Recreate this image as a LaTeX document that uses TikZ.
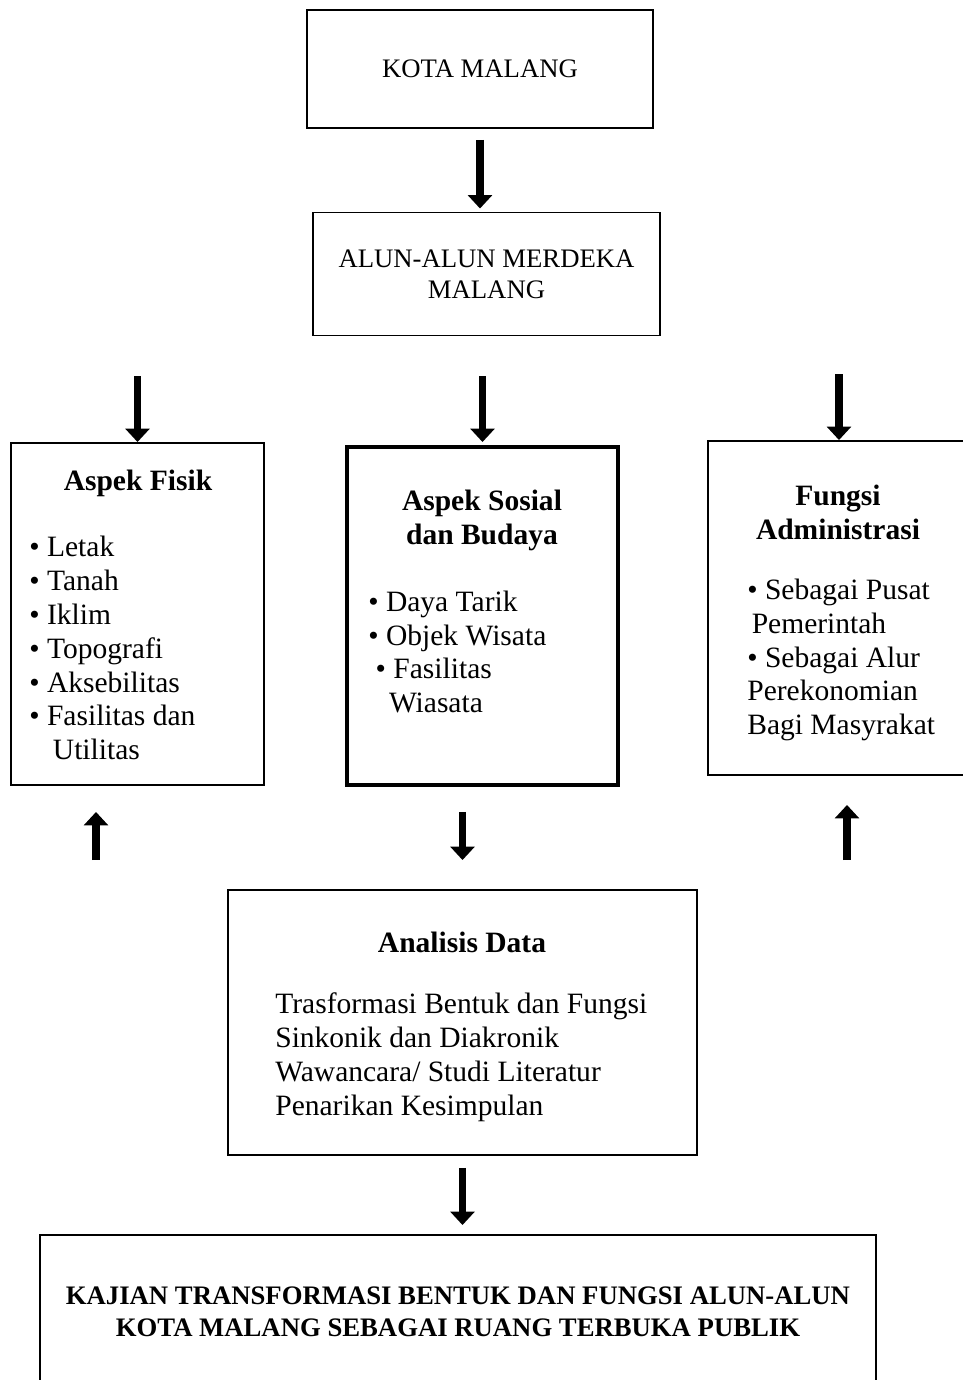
\documentclass[tikz,border=0pt]{standalone}
\usepackage{fontspec}
\setmainfont{Liberation Serif}
\usetikzlibrary{arrows.meta}
\newcommand{\boxfont}{\fontsize{16.8}{19.3}\selectfont}
\newcommand{\headfont}{\fontsize{15.2}{17.6}\selectfont}
\newcommand{\resultfont}{\fontsize{15.2}{18}\selectfont\bfseries}
\begin{document}
\begin{tikzpicture}
    [%%%%%%%%%%%%%%%%%%%%%%%%%%%%%%
        x=0.02cm,y=-0.02cm,
        box/.style={rectangle,draw=black,line width=1.1pt,inner sep=0pt,outer sep=0pt},
        thickbox/.style={box,line width=2.6pt},
        txt/.style={inner sep=0pt,align=left,anchor=west,font=\boxfont},
        ttl/.style={inner sep=0pt,align=center,font=\boxfont\bfseries},
        arr/.style={line width=4pt,-{Triangle[width=0.48cm,length=0.27cm]}}
    ]%%%%%%%%%%%%%%%%%%%%%%%%%%%%%%

\useasboundingbox (0,0) rectangle (963,1380);
\clip (0,0) rectangle (963,1380);

% top
\node[box,minimum width=6.92cm,minimum height=2.36cm,font=\headfont] (kota) at (480,69) {KOTA MALANG};
\node[box,minimum width=6.94cm,minimum height=2.46cm,align=center,font=\headfont] (alun) at (486.5,274) {ALUN-ALUN MERDEKA\\MALANG};

% three aspects
\node[box,minimum width=5.06cm,minimum height=6.84cm] (fisik) at (137.5,614) {};
\node[ttl] (fisikT) at (138,483) {Aspek Fisik};
\node[txt] (fisikL) at (29,648) {\textbullet{} Letak\\\textbullet{} Tanah\\\textbullet{} Iklim\\\textbullet{} Topografi\\\textbullet{} Aksebilitas\\\textbullet{} Fasilitas dan\\\hspace*{0.8em}Utilitas};

\node[thickbox,minimum width=5.42cm,minimum height=6.76cm] (sosial) at (482.5,616) {};
\node[ttl] (sosialT) at (482,520) {Aspek Sosial\\dan Budaya};
\node[txt] (sosialL) at (368,652) {\textbullet{} Daya Tarik\\\textbullet{} Objek Wisata\\\hspace*{0.25em}\textbullet{} Fasilitas\\\hspace*{0.7em}Wiasata};

\node[box,minimum width=5.24cm,minimum height=6.68cm] (admin) at (839,608) {};
\node[ttl] (adminT) at (838,512) {Fungsi\\Administrasi};
\node[txt] (adminL) at (747,660) {\textbullet{} Sebagai Pusat\\\hspace*{0.15em}Pemerintah\\\textbullet{} Sebagai Alur\\Perekonomian\\Bagi Masyrakat};

% analisis
\node[box,minimum width=9.38cm,minimum height=5.3cm] (analisis) at (462.5,1022.5) {};
\node[ttl] (analisisT) at (462,942) {Analisis Data};
\node[txt] (analisisL) at (275,1057) {Trasformasi Bentuk dan Fungsi\\Sinkonik dan Diakronik\\Wawancara/ Studi Literatur\\Penarikan Kesimpulan};

% result
\node[box,minimum width=16.72cm,minimum height=3.3cm] (kajian) at (458,1317.5) {};
\node[inner sep=0pt,align=center,font=\resultfont] (kajianT) at (458,1312) {KAJIAN TRANSFORMASI BENTUK DAN FUNGSI ALUN-ALUN\\KOTA MALANG SEBAGAI RUANG TERBUKA PUBLIK};

% arrows
\draw[arr,shorten <=0.24cm,shorten >=0.08cm] (kota.south) -- (kota.south |- alun.north);
\draw[arr,shorten <=0.82cm,shorten >=0.02cm] (fisik.north |- alun.south) -- (fisik.north);
\draw[arr,shorten <=0.82cm,shorten >=0.1cm] (sosial.north |- alun.south) -- (sosial.north);
\draw[arr,shorten <=0.78cm,shorten >=0.02cm] (admin.north |- alun.south) -- (admin.north);

\coordinate (upL) at (96,860);
\coordinate (upR) at (847,860);
\draw[arr,shorten >=0.54cm] (upL) -- (upL |- fisik.south);
\draw[arr,shorten <=0.54cm,shorten >=0.6cm] (sosial.south -| analisis.north) -- (analisis.north);
\draw[arr,shorten >=0.6cm] (upR) -- (upR |- admin.south);

\draw[arr,shorten <=0.26cm,shorten >=0.2cm] (analisis.south) -- (analisis.south |- kajian.north);

\end{tikzpicture}
\end{document}
